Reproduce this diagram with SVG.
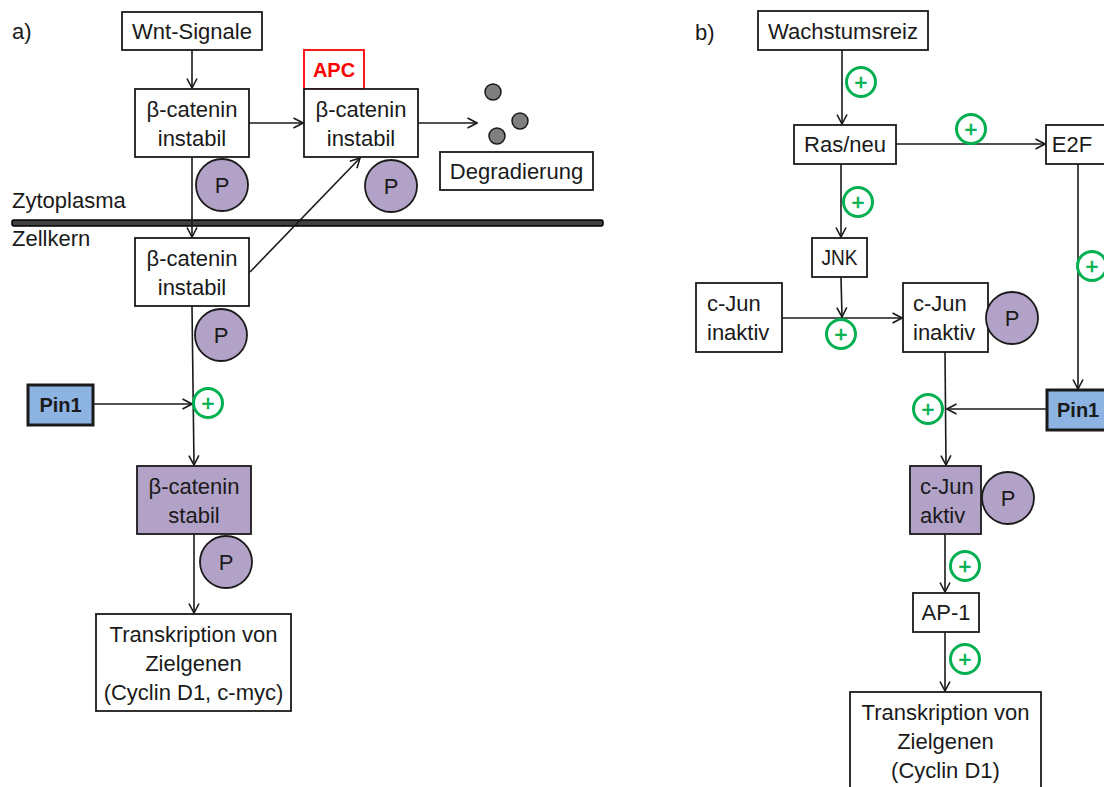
<svg xmlns="http://www.w3.org/2000/svg" width="1104" height="787" viewBox="0 0 1104 787">
<defs>
<marker id="arr" viewBox="0 0 12 12" refX="11" refY="6" markerWidth="12" markerHeight="12" markerUnits="userSpaceOnUse" orient="auto">
<path d="M1.5,1 L11,6 L1.5,11" fill="none" stroke="#1a1a1a" stroke-width="1.6"/>
</marker>
</defs>
<style>
text{font-family:"Liberation Sans",Arial,sans-serif;font-size:22px;fill:#1a1a1a}
.c{text-anchor:middle}
.box{fill:#fff;stroke:#1a1a1a;stroke-width:1.8}
.pur{fill:#b3a2c7;stroke:#1a1a1a;stroke-width:1.8}
.pin{fill:#8db3e2;stroke:#1a1a1a;stroke-width:3}
.pc{fill:#b3a2c7;stroke:#1a1a1a;stroke-width:1.8}
.pl{fill:#fff;stroke:#00b050;stroke-width:3}
.plt{font-size:22px;fill:#00b050;stroke:#00b050;stroke-width:0.6;text-anchor:middle}
.b{font-weight:bold;font-size:20px}
.ln{fill:none;stroke:#1a1a1a;stroke-width:1.6}
.ar{fill:none;stroke:#1a1a1a;stroke-width:1.6;marker-end:url(#arr)}
.dot{fill:#7f7f7f;stroke:#1a1a1a;stroke-width:1.5}
</style>
<rect width="1104" height="787" fill="#fff"/>

<g id="labels">
<text x="12" y="39">a)</text>
<text x="695" y="40">b)</text>
<text x="12" y="208">Zytoplasma</text>
<text x="12" y="246">Zellkern</text>
</g>

<g id="membrane">
<rect x="12" y="220" width="591" height="6" rx="2" fill="#404040" stroke="#000" stroke-width="1.5"/>
</g>

<g id="connectors">
<line class="ar" x1="192" y1="50" x2="192" y2="88"/>
<line class="ar" x1="249" y1="123" x2="303" y2="123"/>
<line class="ar" x1="418" y1="123" x2="477" y2="123"/>
<line class="ar" x1="192" y1="157" x2="192" y2="237"/>
<line class="ar" x1="250" y1="272" x2="360" y2="158"/>
<line class="ar" x1="192" y1="306" x2="194" y2="465"/>
<line class="ar" x1="93" y1="404" x2="192" y2="404"/>
<line class="ar" x1="194" y1="534" x2="194" y2="613"/>

<line class="ar" x1="842" y1="50" x2="842" y2="124"/>
<line class="ar" x1="896" y1="144" x2="1045" y2="144"/>
<line class="ar" x1="841" y1="164" x2="841" y2="237"/>
<line class="ar" x1="841" y1="277" x2="842" y2="317"/>
<line class="ar" x1="782" y1="318" x2="902" y2="318"/>
<line class="ar" x1="945" y1="352" x2="946" y2="465"/>
<line class="ar" x1="1047" y1="409" x2="947" y2="409"/>
<line class="ar" x1="1078" y1="164" x2="1078" y2="389"/>
<line class="ar" x1="945" y1="534" x2="945" y2="592"/>
<line class="ar" x1="945" y1="632" x2="945" y2="691"/>
</g>

<g id="wnt">
<rect class="box" x="122" y="12" width="140" height="38"/>
<text class="c" x="192" y="39">Wnt-Signale</text>
</g>
<g id="bcat1">
<rect class="box" x="135" y="89" width="114" height="68"/>
<text class="c" x="192" y="117">β-catenin</text>
<text class="c" x="192" y="146">instabil</text>
</g>
<g id="p1">
<circle class="pc" cx="222" cy="185" r="26"/>
<text class="c" x="222" y="193">P</text>
</g>
<g id="apc">
<rect x="304" y="50" width="60" height="39" fill="#fff" stroke="#ff0000" stroke-width="1.8"/>
<text class="c b" x="334" y="77" style="fill:#ff0000">APC</text>
</g>
<g id="bcat2">
<rect class="box" x="304" y="89" width="114" height="68"/>
<text class="c" x="361" y="117">β-catenin</text>
<text class="c" x="361" y="146">instabil</text>
</g>
<g id="p2">
<circle class="pc" cx="391" cy="186" r="26"/>
<text class="c" x="391" y="194">P</text>
</g>
<g id="dots">
<circle class="dot" cx="493" cy="92" r="8"/>
<circle class="dot" cx="520" cy="121" r="8"/>
<circle class="dot" cx="497" cy="136" r="8"/>
</g>
<g id="degradierung">
<rect class="box" x="440" y="152" width="153" height="38"/>
<text class="c" x="516.5" y="179">Degradierung</text>
</g>
<g id="bcat3">
<rect class="box" x="135" y="238" width="114" height="68"/>
<text class="c" x="192" y="266">β-catenin</text>
<text class="c" x="192" y="295">instabil</text>
</g>
<g id="p3">
<circle class="pc" cx="221" cy="335" r="26"/>
<text class="c" x="221" y="343">P</text>
</g>
<g id="plusA">
<circle class="pl" cx="208" cy="403" r="14.5"/>
<text class="plt" x="208" y="411">+</text>
</g>
<g id="pin1a">
<rect class="pin" x="28" y="385" width="65" height="40"/>
<text class="c b" x="60.5" y="412">Pin1</text>
</g>
<g id="bcatStabil">
<rect class="pur" x="137" y="466" width="114" height="68"/>
<text class="c" x="194" y="494">β-catenin</text>
<text class="c" x="194" y="523">stabil</text>
</g>
<g id="p4">
<circle class="pc" cx="226" cy="562" r="26"/>
<text class="c" x="226" y="570">P</text>
</g>
<g id="transA">
<rect class="box" x="96" y="614" width="195" height="97"/>
<text class="c" x="193.5" y="642">Transkription von</text>
<text class="c" x="193.5" y="671">Zielgenen</text>
<text class="c" x="193.5" y="700">(Cyclin D1, c-myc)</text>
</g>

<g id="wachstum">
<rect class="box" x="758" y="11" width="170" height="39"/>
<text class="c" x="843" y="39" textLength="150" lengthAdjust="spacingAndGlyphs">Wachstumsreiz</text>
</g>
<g id="plusB1">
<circle class="pl" cx="861" cy="82" r="14.5"/>
<text class="plt" x="861" y="90">+</text>
</g>
<g id="ras">
<rect class="box" x="794" y="125" width="102" height="39"/>
<text class="c" x="845" y="152">Ras/neu</text>
</g>
<g id="plusB2">
<circle class="pl" cx="971" cy="129" r="14.5"/>
<text class="plt" x="971" y="137">+</text>
</g>
<g id="e2f">
<rect class="box" x="1046" y="125" width="64" height="39"/>
<text class="c" x="1072" y="152">E2F</text>
</g>
<g id="plusB3">
<circle class="pl" cx="858" cy="202" r="14.5"/>
<text class="plt" x="858" y="210">+</text>
</g>
<g id="jnk">
<rect class="box" x="812" y="238" width="55" height="39"/>
<text class="c" x="839.5" y="265" textLength="36" lengthAdjust="spacingAndGlyphs">JNK</text>
</g>
<g id="plusB4">
<circle class="pl" cx="1092" cy="266" r="14.5"/>
<text class="plt" x="1092" y="274">+</text>
</g>
<g id="cjun1">
<rect class="box" x="696" y="283" width="86" height="69"/>
<text x="707" y="311">c-Jun</text>
<text x="707" y="340">inaktiv</text>
</g>
<g id="plusB5">
<circle class="pl" cx="841" cy="334" r="14.5"/>
<text class="plt" x="841" y="342">+</text>
</g>
<g id="cjun2">
<rect class="box" x="903" y="283" width="85" height="69"/>
<text x="913" y="311">c-Jun</text>
<text x="913" y="340">inaktiv</text>
</g>
<g id="p5">
<circle class="pc" cx="1012" cy="318" r="26"/>
<text class="c" x="1012" y="326">P</text>
</g>
<g id="plusB6">
<circle class="pl" cx="928" cy="409" r="14.5"/>
<text class="plt" x="928" y="417">+</text>
</g>
<g id="pin1b">
<rect class="pin" x="1047" y="390" width="66" height="40"/>
<text class="b" x="1057" y="417">Pin1</text>
</g>
<g id="cjunAktiv">
<rect class="pur" x="910" y="466" width="71" height="68"/>
<text x="920" y="494">c-Jun</text>
<text x="920" y="523">aktiv</text>
</g>
<g id="p6">
<circle class="pc" cx="1008" cy="498" r="26"/>
<text class="c" x="1008" y="506">P</text>
</g>
<g id="plusB7">
<circle class="pl" cx="965" cy="566" r="14.5"/>
<text class="plt" x="965" y="574">+</text>
</g>
<g id="ap1">
<rect class="box" x="913" y="593" width="66" height="39"/>
<text class="c" x="946" y="620">AP-1</text>
</g>
<g id="plusB8">
<circle class="pl" cx="965" cy="659" r="14.5"/>
<text class="plt" x="965" y="667">+</text>
</g>
<g id="transB">
<rect class="box" x="850" y="692" width="191" height="110"/>
<text class="c" x="945.5" y="720">Transkription von</text>
<text class="c" x="945.5" y="749">Zielgenen</text>
<text class="c" x="945.5" y="778">(Cyclin D1)</text>
</g>
</svg>
